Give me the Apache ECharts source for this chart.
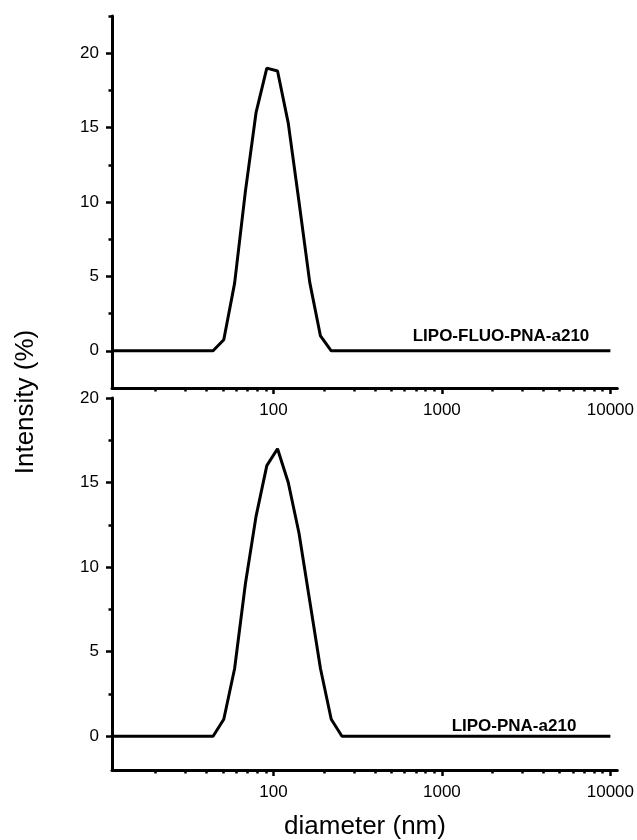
<!DOCTYPE html>
<html><head><meta charset="utf-8">
<script src="https://cdn.jsdelivr.net/npm/echarts@6/dist/echarts.min.js"></script>
<style>html,body{margin:0;padding:0;background:#fff}#c{width:637px;height:840px}</style>
</head><body><div id="c"></div>
<script>
// ---- data ----
const diameterTop = [11, 43.8, 50.7, 58.8, 68.1, 78.8, 91.3, 105.7, 122.4, 141.8, 164.2, 190.1, 220.2, 10000];
const intensityTop = [0, 0, 0.74, 4.55, 10.7, 16.0, 19.0, 18.8, 15.3, 10.0, 4.6, 1.0, 0, 0];
const diameterBottom = [11, 43.8, 50.7, 58.8, 68.1, 78.8, 91.3, 105.7, 122.4, 141.8, 164.2, 190.1, 220.2, 255.0, 10000];
const intensityBottom = [0, 0, 1, 4, 9, 13, 16, 17, 15, 12, 8, 4, 1, 0, 0];
const seriesNames = ['LIPO-FLUO-PNA-a210', 'LIPO-PNA-a210'];
const xMajorTicks = [100, 1000, 10000];
const xMinorTicks = [20, 30, 40, 50, 60, 70, 80, 90, 200, 300, 400, 500, 600, 700, 800, 900, 2000, 3000, 4000, 5000, 6000, 7000, 8000, 9000];
const yMajorTicks = [0, 5, 10, 15, 20];
const yMinorTicksTop = [2.5, 7.5, 12.5, 17.5, 22.5];
const yMinorTicksBottom = [2.5, 7.5, 12.5, 17.5];
const xTitle = 'diameter (nm)';
const yTitle = 'Intensity (%)';

const FONT = "'Liberation Sans', Arial, sans-serif";
const chart = echarts.init(document.getElementById('c'), null, {renderer: 'canvas'});
const AXW = 3;
const TKW = 2.5;

function xMain(g) {
  return {
    type: 'log', logBase: 10, gridIndex: g, min: 11, max: 11000, position: 'bottom',
    axisLine: {show: true, onZero: false, lineStyle: {color: '#000', width: AXW}},
    axisTick: {show: true, customValues: xMajorTicks, length: 6, lineStyle: {color: '#000', width: TKW}},
    axisLabel: {show: true, customValues: xMajorTicks, formatter: v => String(v), color: '#000', fontSize: 17, fontFamily: FONT, margin: 14},
    splitLine: {show: false}, minorTick: {show: false}
  };
}
function xMinor(g) {
  return {
    type: 'log', logBase: 10, gridIndex: g, min: 11, max: 11000, position: 'bottom',
    axisLine: {show: false, onZero: false},
    axisTick: {show: true, customValues: xMinorTicks, length: 3.5, lineStyle: {color: '#000', width: TKW}},
    axisLabel: {show: false},
    splitLine: {show: false}
  };
}
function yMain(g, min, max) {
  return {
    type: 'value', gridIndex: g, min: min, max: max, position: 'left',
    axisLine: {show: true, onZero: false, lineStyle: {color: '#000', width: AXW}},
    axisTick: {show: true, customValues: yMajorTicks, length: 6, lineStyle: {color: '#000', width: TKW}},
    axisLabel: {show: true, customValues: yMajorTicks, color: '#000', fontSize: 17, fontFamily: FONT, margin: 13},
    splitLine: {show: false}
  };
}
function yMinor(g, min, max, ticks) {
  return {
    type: 'value', gridIndex: g, min: min, max: max, position: 'left',
    axisLine: {show: false, onZero: false},
    axisTick: {show: true, customValues: ticks, length: 3.5, lineStyle: {color: '#000', width: TKW}},
    axisLabel: {show: false},
    splitLine: {show: false}
  };
}
function pairs(xs, ys) { return xs.map((x, i) => [x, ys[i]]); }

chart.setOption({
  animation: false,
  backgroundColor: '#fff',
  grid: [
    {left: 112, top: 16, width: 506, height: 372},
    {left: 112, top: 398, width: 506, height: 372}
  ],
  xAxis: [xMain(0), xMinor(0), xMain(1), xMinor(1)],
  yAxis: [yMain(0, -2.5, 22.5), yMinor(0, -2.5, 22.5, yMinorTicksTop), yMain(1, -2, 20), yMinor(1, -2, 20, yMinorTicksBottom)],
  series: [
    {name: seriesNames[0], type: 'line', xAxisIndex: 0, yAxisIndex: 0, data: pairs(diameterTop, intensityTop),
     showSymbol: false, lineStyle: {color: '#000', width: 3}, itemStyle: {color: '#000'}},
    {name: seriesNames[1], type: 'line', xAxisIndex: 2, yAxisIndex: 2, data: pairs(diameterBottom, intensityBottom),
     showSymbol: false, lineStyle: {color: '#000', width: 3}, itemStyle: {color: '#000'}}
  ],
  graphic: [
    {type: 'text', x: 501, y: 336, style: {text: seriesNames[0], fill: '#000', font: 'bold 17px ' + FONT, textAlign: 'center', textVerticalAlign: 'middle'}},
    {type: 'text', x: 514, y: 726, style: {text: seriesNames[1], fill: '#000', font: 'bold 17px ' + FONT, textAlign: 'center', textVerticalAlign: 'middle'}},
    {type: 'text', x: 365, y: 827, style: {text: xTitle, fill: '#000', font: '26px ' + FONT, textAlign: 'center', textVerticalAlign: 'middle'}},
    {type: 'text', x: 26, y: 402, rotation: Math.PI / 2, style: {text: yTitle, fill: '#000', font: '26px ' + FONT, textAlign: 'center', textVerticalAlign: 'middle'}}
  ]
});
</script>
</body></html>
